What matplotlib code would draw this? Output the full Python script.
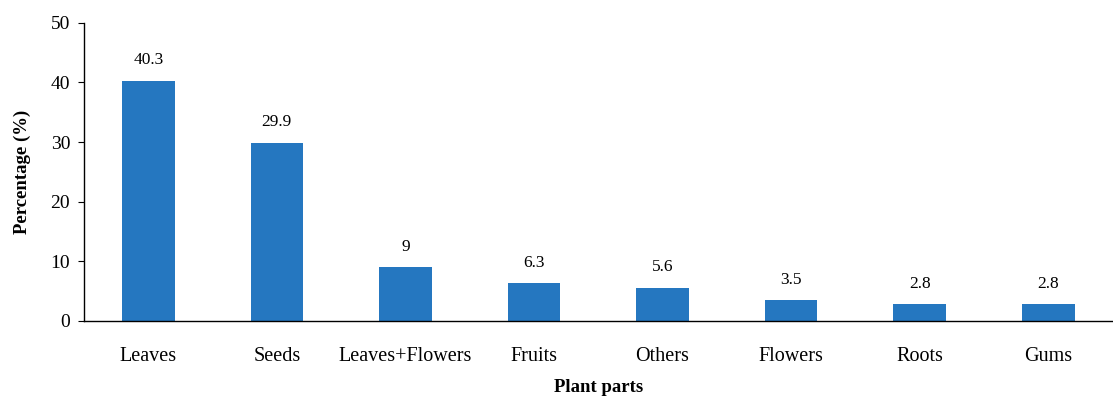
import matplotlib.pyplot as plt
import numpy as np

parts = ['Leaves', 'Seeds', 'Leaves+Flowers', 'Fruits', 'Others', 'Flowers', 'Roots', 'Gums']
percent = [40.3, 29.9, 9, 6.3, 5.6, 3.5, 2.8, 2.8]
value_labels = ['40.3', '29.9', '9', '6.3', '5.6', '3.5', '2.8', '2.8']

BAR_COLOR = '#2577C0'

plt.rcParams['font.family'] = ['Liberation Serif', 'DejaVu Serif']

fig = plt.figure(figsize=(11.13, 4.03), dpi=100)
ax = fig.add_axes([0.0755, 0.2035, 0.924, 0.74])

x = np.arange(len(parts))
bars = ax.bar(x, percent, width=0.41, color=BAR_COLOR)
for rect, text in zip(bars, value_labels):
    ax.annotate(text, (rect.get_x() + rect.get_width() / 2, rect.get_height()),
                xytext=(0, 9), textcoords='offset points',
                ha='center', va='bottom', fontsize=12.5)

ax.set_xlim(-0.5, len(parts) - 0.5)
ax.set_ylim(0, 50)
ax.set_yticks(range(0, 51, 10))
ax.set_xticks(x)
ax.set_xticklabels(parts, fontsize=14.5)
ax.tick_params(axis='y', labelsize=14, length=4, width=0.8, pad=6)
ax.tick_params(axis='x', length=0, pad=19)

for side in ('top', 'right'):
    ax.spines[side].set_visible(False)
for side in ('left', 'bottom'):
    ax.spines[side].set_linewidth(1.0)

ax.set_ylabel('Percentage (%)', fontsize=13.5, fontweight='bold', labelpad=14)
ax.set_xlabel('Plant parts', fontsize=13.5, fontweight='bold', labelpad=9)

fig.savefig('out.png', dpi=100)
